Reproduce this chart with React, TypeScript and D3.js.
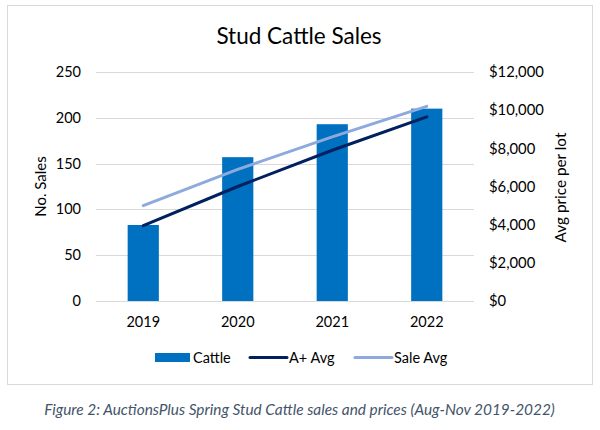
import React, { useEffect, useRef } from "react";
import * as d3 from "d3";

const years = ["2019", "2020", "2021", "2022"];
const cattle = [83, 157, 193, 210];
const aPlusAvg = [3950, 6000, 7900, 9650];
const saleAvg = [5000, 6900, 8600, 10200];
const leftTicks = [0, 50, 100, 150, 200, 250];
const rightTicks = [0, 2000, 4000, 6000, 8000, 10000, 12000];

const FONT = "Lato, 'Open Sans', sans-serif";
const BAR = "#0070C0";
const DARK = "#002060";
const LIGHT = "#8EA9DB";
const TEXT = "#000000";

export default function App() {
  const ref = useRef<SVGSVGElement>(null);
  useEffect(() => {
    const svg = d3.select(ref.current);
    svg.selectAll("*").remove();
    const W = 600, H = 430;
    const left = 96, right = 474, top = 72, bottom = 301;

    svg.append("rect").attr("x", 0).attr("y", 0).attr("width", W).attr("height", H).attr("fill", "#fff");
    svg.append("rect").attr("x", 7.5).attr("y", 5.5).attr("width", 585).attr("height", 379)
      .attr("fill", "#fff").attr("stroke", "#d9d9d9").attr("stroke-width", 1);

    const x = d3.scaleBand().domain(years).range([left, right]).paddingInner(0.67).paddingOuter(0.335);
    const yL = d3.scaleLinear().domain([0, 250]).range([bottom, top]);
    const yR = d3.scaleLinear().domain([0, 12000]).range([bottom, top]);

    // gridlines
    svg.append("g").selectAll("line").data(leftTicks).join("line")
      .attr("x1", left).attr("x2", right)
      .attr("y1", d => Math.round(yL(d)) + 0.5).attr("y2", d => Math.round(yL(d)) + 0.5)
      .attr("stroke", "#d9d9d9").attr("stroke-width", 1);

    // left ticks
    svg.append("g").selectAll("text").data(leftTicks).join("text")
      .attr("x", 81).attr("y", d => yL(d)).attr("dy", "0.35em")
      .attr("text-anchor", "end").attr("font-family", FONT).attr("font-size", 14.5).attr("fill", TEXT)
      .text(d => d3.format("d")(d));

    // right ticks
    svg.append("g").selectAll("text").data(rightTicks).join("text")
      .attr("x", 489).attr("y", d => yR(d)).attr("dy", "0.35em")
      .attr("text-anchor", "start").attr("font-family", FONT).attr("font-size", 14.8).attr("fill", TEXT)
      .text(d => "$" + d3.format(",")(d));

    // bars
    svg.append("g").selectAll("rect").data(years).join("rect")
      .attr("x", d => x(d)!).attr("width", x.bandwidth())
      .attr("y", (d, i) => yL(cattle[i])).attr("height", (d, i) => bottom - yL(cattle[i]))
      .attr("fill", BAR);

    const line = d3.line<number>()
      .x((d, i) => x(years[i])! + x.bandwidth() / 2)
      .y(d => yR(d));

    svg.append("path").attr("d", line(aPlusAvg)!).attr("fill", "none")
      .attr("stroke", DARK).attr("stroke-width", 3).attr("stroke-linecap", "round");
    svg.append("path").attr("d", line(saleAvg)!).attr("fill", "none")
      .attr("stroke", LIGHT).attr("stroke-width", 3).attr("stroke-linecap", "round");

    // x labels
    svg.append("g").selectAll("text").data(years).join("text")
      .attr("x", d => x(d)! + x.bandwidth() / 2).attr("y", 327)
      .attr("text-anchor", "middle").attr("font-family", FONT).attr("font-size", 14.5).attr("fill", TEXT)
      .text(d => d);

    // title
    svg.append("text").attr("x", 299).attr("y", 44).attr("text-anchor", "middle")
      .attr("font-family", FONT).attr("font-size", 22.5).attr("fill", TEXT).text("Stud Cattle Sales");

    // axis titles
    svg.append("text").attr("transform", `translate(46,${(top + bottom) / 2}) rotate(-90)`)
      .attr("text-anchor", "middle").attr("font-family", FONT).attr("font-size", 15).attr("fill", TEXT)
      .text("No. Sales");
    svg.append("text").attr("transform", `translate(566,${(top + bottom) / 2 + 1}) rotate(-90)`)
      .attr("text-anchor", "middle").attr("font-family", FONT).attr("font-size", 15.3).attr("fill", TEXT)
      .text("Avg price per lot");

    // legend
    const lg = svg.append("g");
    lg.append("rect").attr("x", 155).attr("y", 353).attr("width", 35).attr("height", 9).attr("fill", BAR);
    lg.append("text").attr("x", 193).attr("y", 357.5).attr("dy", "0.35em")
      .attr("font-family", FONT).attr("font-size", 14.5).attr("fill", TEXT).text("Cattle");
    lg.append("line").attr("x1", 250).attr("x2", 287).attr("y1", 357.5).attr("y2", 357.5)
      .attr("stroke", DARK).attr("stroke-width", 3).attr("stroke-linecap", "round");
    lg.append("text").attr("x", 289).attr("y", 357.5).attr("dy", "0.35em")
      .attr("font-family", FONT).attr("font-size", 14.5).attr("fill", TEXT).text("A+ Avg");
    lg.append("line").attr("x1", 355).attr("x2", 392).attr("y1", 357.5).attr("y2", 357.5)
      .attr("stroke", LIGHT).attr("stroke-width", 3).attr("stroke-linecap", "round");
    lg.append("text").attr("x", 394).attr("y", 357.5).attr("dy", "0.35em")
      .attr("font-family", FONT).attr("font-size", 14.5).attr("fill", TEXT).text("Sale Avg");

    // caption
    svg.append("text").attr("x", 299.5).attr("y", 415).attr("text-anchor", "middle")
      .attr("font-family", FONT).attr("font-size", 15.4).attr("font-style", "italic").attr("fill", "#44546A")
      .text("Figure 2: AuctionsPlus Spring Stud Cattle sales and prices (Aug-Nov 2019-2022)");
  }, []);

  return (
    <svg ref={ref} width={600} height={430} style={{ position: "absolute", left: 0, top: 0, display: "block" }} />
  );
}
